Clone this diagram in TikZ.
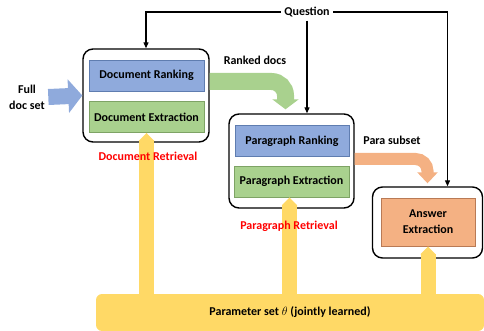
\documentclass[tikz,border=0pt]{standalone}
\usepackage{fontspec}
\setmainfont{Carlito}
\usetikzlibrary{arrows.meta}

\definecolor{rankblue}{HTML}{8FAADC}
\definecolor{rankedge}{HTML}{5F7DB0}
\definecolor{extgreen}{HTML}{A9D18E}
\definecolor{extedge}{HTML}{7EA365}
\definecolor{ansorange}{HTML}{F4B183}
\definecolor{ansedge}{HTML}{B97A55}
\definecolor{paramyellow}{HTML}{FFD966}

\begin{document}
\begin{tikzpicture}[x=1pt, y=-1pt, font=\bfseries\fontsize{12}{16}\selectfont,
    >={Triangle[length=6pt,width=5pt]}]
   \useasboundingbox (0,0) rectangle (484,331);

   \node[fill=paramyellow, rounded corners=6pt, minimum width=388pt, minimum height=37pt] (params) at (290,312.5) {Parameter set $\theta$ (jointly learned)};

   \begin{scope}[every node/.style={draw=black, line width=1.4pt, rounded corners=10pt, fill=white}]
    \node[minimum width=126pt, minimum height=93pt] (docret) at (146,95.5) {};
    \node[minimum width=125pt, minimum height=94pt] (pararet) at (291.5,161) {};
    \node[minimum width=110pt, minimum height=71pt] (ansret) at (427.5,222.5) {};
   \end{scope}

   \begin{scope}[every node/.style={line width=0.9pt, inner sep=0pt, minimum width=115pt, minimum height=31pt, align=center}]
    \node[draw=rankedge, fill=rankblue] (drank) at (146.5,75.5) {Document Ranking};
    \node[draw=extedge, fill=extgreen] (dext) at (146.5,117) {Document Extraction};
    \node[draw=rankedge, fill=rankblue, minimum width=114pt] (prank) at (292,141) {Paragraph Ranking};
    \node[draw=extedge, fill=extgreen] (pext) at (291.5,181.5) {Paragraph Extraction};
    \node[draw=ansedge, fill=ansorange, minimum width=94pt, minimum height=48pt] (aext) at (428,222) {Answer\\Extraction};
   \end{scope}

   \begin{scope}[every path/.style={draw=paramyellow, line width=15pt, -{Triangle[length=8pt,width=15pt]}}]
    \draw (params.north -| dext.south) -- (dext.south);
    \draw ([xshift=-2pt]params.north -| pext.south) -- ([xshift=-2pt]pext.south);
    \draw (params.north -| aext.south) -- (aext.south);
   \end{scope}

   \node[align=center] (fulldoc) at (27,97) {Full\\doc set};
   \node (question) at (307,12) {Question};
   \node (rankedlbl) at (255,60) {Ranked docs};
   \node (subsetlbl) at (392,140) {Para subset};
   \node[text=red] (docretlbl) at (148,156) {Document Retrieval};
   \node[text=red] (pararetlbl) at (289,226) {Paragraph Retrieval};

   \begin{scope}[every path/.style={line width=1.2pt}]
    \draw[->] (question.west) -| (docret.north);
    \draw[->] (question.south) -- (question.south |- pararet.north);
    \draw[->] (question.east) -| ([xshift=20pt]ansret.north);
   \end{scope}

   \draw[draw=rankblue, line width=16pt, -{Triangle[length=14pt,width=33pt]}] (fulldoc.east) -- (docret.west);
   \draw[draw=extgreen, line width=17pt, rounded corners=14pt, -{Triangle[length=10pt,width=26pt]}]
     ([yshift=-6pt]drank.east -| docret.east) -| ([xshift=-6pt,yshift=4pt]pararet.north);
   \draw[draw=ansorange, line width=12pt, rounded corners=12pt, -{Triangle[length=11pt,width=20pt]}]
     ([yshift=2pt]pararet.east) -| ([yshift=3pt]ansret.north);
\end{tikzpicture}
\end{document}
